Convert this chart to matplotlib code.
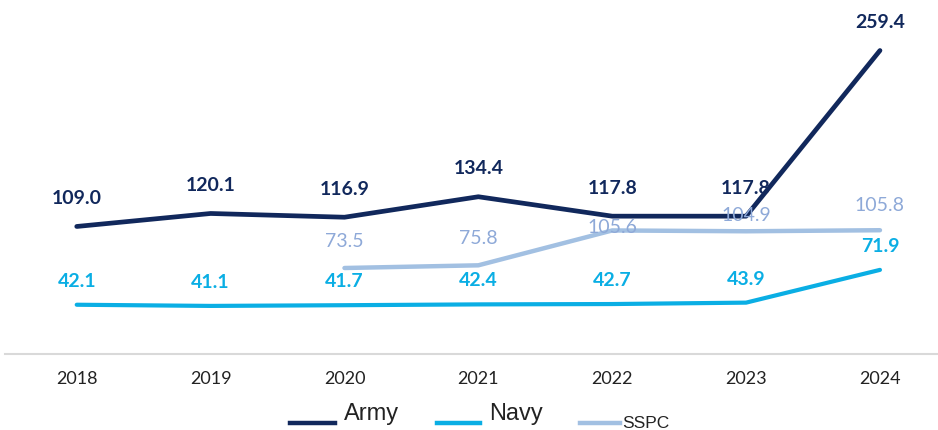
import matplotlib
matplotlib.use("Agg")
from matplotlib import pyplot as plt
from matplotlib.lines import Line2D

years = [2018, 2019, 2020, 2021, 2022, 2023, 2024]
army = [109.0, 120.1, 116.9, 134.4, 117.8, 117.8, 259.4]
navy = [42.1, 41.1, 41.7, 42.4, 42.7, 43.9, 71.9]
sspc_years = [2020, 2021, 2022, 2023, 2024]
sspc = [73.5, 75.8, 105.6, 104.9, 105.8]

army_color = "#11285c"
navy_color = "#0aaee4"
sspc_color = "#a2c0e2"
sspc_text = "#8ea9d8"

plt.rcParams["font.family"] = ["Lato", "DejaVu Sans"]

fig = plt.figure(figsize=(9.38, 4.3), dpi=100)
ax = fig.add_axes([0.005, 1 - 354 / 430, 0.995, (354 - 10) / 430])
ax.set_xlim(2018 - 72 / 133.8, 2024 + 58 / 133.8)
ax.set_ylim(0, 344 / 1.17)

ax.plot(years, navy, color=navy_color, lw=3.0, solid_capstyle="round", zorder=2)
ax.plot(sspc_years, sspc, color=sspc_color, lw=3.2, solid_capstyle="round", zorder=2)
ax.plot(years, army, color=army_color, lw=3.4, solid_capstyle="round", zorder=3)

for x, v in zip(years, army):
    ax.annotate(f"{v:.1f}", (x, v), xytext=(0, 20), textcoords="offset points",
                ha="center", va="center", fontsize=14, fontweight="bold",
                color=army_color, zorder=4)
for x, v in zip(years, navy):
    ax.annotate(f"{v:.1f}", (x, v), xytext=(0, 17), textcoords="offset points",
                ha="center", va="center", fontsize=14, fontweight="bold",
                color=navy_color, zorder=4)
sspc_offsets = [19, 19, 2, 11, 18]
for x, v, dy in zip(sspc_years, sspc, sspc_offsets):
    ax.annotate(f"{v:.1f}", (x, v), xytext=(0, dy), textcoords="offset points",
                ha="center", va="center", fontsize=14, color=sspc_text, zorder=4)

for side in ["top", "right", "left"]:
    ax.spines[side].set_visible(False)
ax.spines["bottom"].set_color("#d9d9d9")
ax.spines["bottom"].set_linewidth(1.5)
ax.set_yticks([])
ax.set_xticks(years)
ax.set_xticklabels([str(y) for y in years], fontsize=13, color="#222222")
ax.tick_params(axis="x", length=0, pad=12)

# legend drawn by hand along the bottom edge
def legend_item(x0, x1, y, color, lw, label, tx, ty, size):
    fig.add_artist(Line2D([x0 / 938, x1 / 938], [1 - y / 430, 1 - y / 430],
                          color=color, lw=lw, transform=fig.transFigure))
    fig.text(tx / 938, 1 - ty / 430, label, fontsize=size, color="#222222",
             family=["Liberation Sans", "DejaVu Sans"], va="center", ha="left")

legend_item(290, 335, 423, army_color, 3.2, "Army", 344, 414, 17)
legend_item(437, 480, 423, navy_color, 3.2, "Navy", 489, 414, 17)
legend_item(580, 620, 423, sspc_color, 3.2, "SSPC", 622, 423, 12.5)

fig.savefig("out.png", dpi=100)
